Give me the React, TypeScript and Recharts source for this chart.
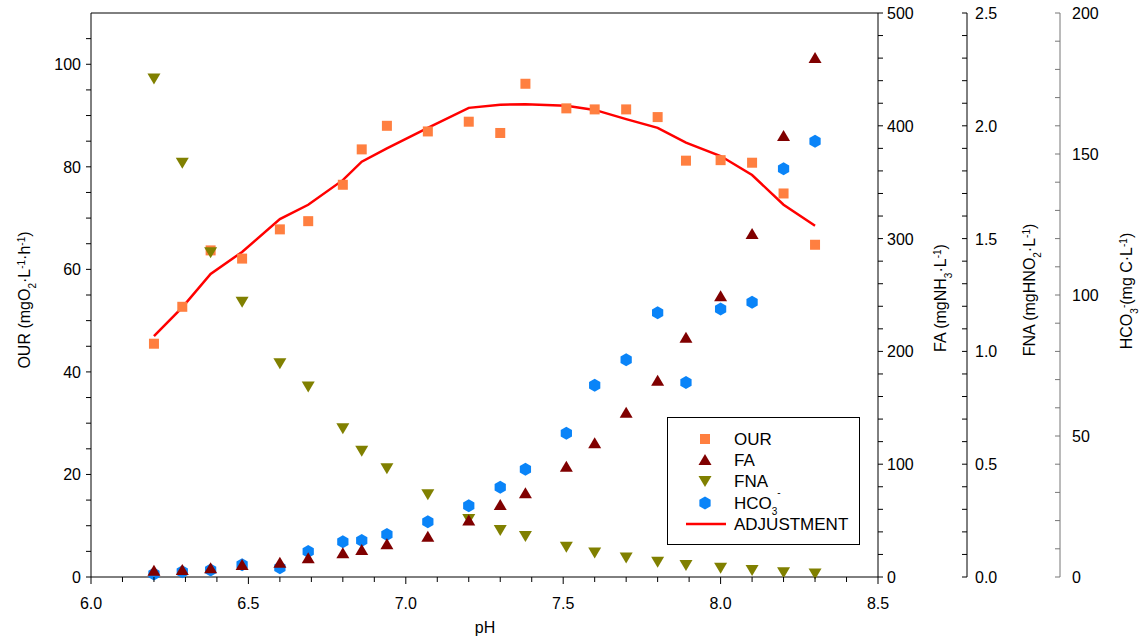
import React from 'react';
import { ComposedChart, Scatter, Line, XAxis, YAxis, ReferenceLine, Legend } from 'recharts';

const FONT = '"Liberation Sans", Arial, Helvetica, sans-serif';

// pH of each sample
const phValues = [6.2, 6.29, 6.38, 6.48, 6.6, 6.69, 6.8, 6.86, 6.94, 7.07, 7.2, 7.3, 7.38, 7.51, 7.6, 7.7, 7.8, 7.89, 8.0, 8.1, 8.2, 8.3];
// OUR (mgO2/L/h) measured and fitted
const ourValues = [45.5, 52.7, 63.7, 62.1, 67.8, 69.4, 76.5, 83.4, 88.0, 86.9, 88.8, 86.6, 96.2, 91.4, 91.2, 91.2, 89.7, 81.2, 81.3, 80.8, 74.8, 64.8];
const adjustmentValues = [47.0, 52.6, 59.1, 63.4, 69.8, 72.6, 77.4, 81.0, 83.6, 87.6, 91.5, 92.1, 92.2, 91.9, 91.1, 89.3, 87.6, 84.7, 82.1, 78.4, 72.6, 68.5];
// FA (mgNH3/L)
const faValues = [5.6, 6.2, 7.7, 10.6, 12.7, 16.6, 21, 24, 29, 35.7, 50, 63.8, 74.2, 97.8, 118.5, 145.7, 174, 212, 249, 304, 391, 460];
// FNA (mgHNO2/L)
const fnaValues = [2.21, 1.836, 1.44, 1.22, 0.947, 0.844, 0.659, 0.56, 0.482, 0.367, 0.257, 0.208, 0.182, 0.134, 0.109, 0.086, 0.068, 0.053, 0.041, 0.031, 0.021, 0.016];
// HCO3- (mg C/L)
const hco3Values = [1.1, 1.9, 2.5, 4.3, 3.3, 9.0, 12.5, 12.9, 15.1, 19.6, 25.3, 31.8, 38.2, 51, 68, 77, 93.7, 69, 95, 97.4, 144.8, 154.5];

const phMajorTicks = [6.0, 6.5, 7.0, 7.5, 8.0, 8.5];
const ourMajorTicks = [0, 20, 40, 60, 80, 100];
const faMajorTicks = [0, 100, 200, 300, 400, 500];
const fnaMajorTicks = [0, 0.5, 1.0, 1.5, 2.0, 2.5];
const hco3MajorTicks = [0, 50, 100, 150, 200];

const rows = phValues.map((ph, i) => ({
  ph,
  our: ourValues[i],
  adj: adjustmentValues[i],
  fa: faValues[i],
  fna: fnaValues[i],
  hco3: hco3Values[i],
}));

const steps = (from: number, to: number, step: number) => {
  const n = Math.round((to - from) / step);
  const out: number[] = [];
  for (let i = 0; i <= n; i++) out.push(Math.round((from + i * step) * 1000) / 1000);
  return out;
};
const isMajor = (list: number[], v: number) => list.some((m) => Math.abs(m - v) < 1e-6);

const C_OUR = '#ff7f40';
const C_FA = '#800000';
const C_FNA = '#808000';
const C_HCO3 = '#0a84f8';
const C_ADJ = '#ff0000';

const Square = ({ cx, cy, fill }: any) => <rect x={cx - 5} y={cy - 5} width={10} height={10} fill={fill} />;
const TriUp = ({ cx, cy, fill }: any) => (
  <polygon points={`${cx},${cy - 6} ${cx + 6.5},${cy + 5} ${cx - 6.5},${cy + 5}`} fill={fill} />
);
const TriDown = ({ cx, cy, fill }: any) => (
  <polygon points={`${cx - 6.5},${cy - 5} ${cx + 6.5},${cy - 5} ${cx},${cy + 6}`} fill={fill} />
);
const Hexagon = ({ cx, cy, fill }: any) => {
  const r = 6.5;
  const pts = [-90, -30, 30, 90, 150, 210]
    .map((a) => `${cx + r * Math.cos((a * Math.PI) / 180)},${cy + r * Math.sin((a * Math.PI) / 180)}`)
    .join(' ');
  return <polygon points={pts} fill={fill} />;
};

const txt = { fontFamily: FONT, fontSize: 16, fill: '#000' };

const xTick = (p: any) => {
  const v = p.payload.value;
  const major = isMajor(phMajorTicks, v);
  return (
    <g>
      <line x1={p.x} x2={p.x} y1={p.y} y2={p.y + (major ? 7 : 5)} stroke="#000" />
      {major && (
        <text x={p.x} y={p.y + 32} textAnchor="middle" {...txt}>
          {v.toFixed(1)}
        </text>
      )}
    </g>
  );
};

const ourTick = (p: any) => {
  const v = p.payload.value;
  return (
    <g>
      <line x1={p.x - 5} x2={p.x} y1={p.y} y2={p.y} stroke="#000" />
      {isMajor(ourMajorTicks, v) && (
        <text x={p.x - 10} y={p.y + 6} textAnchor="end" {...txt}>
          {v}
        </text>
      )}
    </g>
  );
};

const rightTick = (majors: number[], dir: number, gap: number, digits: number, stroke: string) => (p: any) => {
  const v = p.payload.value;
  return (
    <g>
      <line x1={p.x} x2={p.x + dir * 5} y1={p.y} y2={p.y} stroke={stroke} />
      {isMajor(majors, v) && (
        <text x={p.x + gap} y={p.y + 6} textAnchor="start" {...txt}>
          {v.toFixed(digits)}
        </text>
      )}
    </g>
  );
};

const sub = { fontSize: 10, baselineShift: 'sub' } as any;
const sup = { fontSize: 10, baselineShift: 'super' } as any;

const VLabel = ({ x, y, children }: any) => (
  <text transform={`translate(${x},${y}) rotate(-90)`} textAnchor="middle" fontFamily={FONT} fontSize={16} fill="#000">
    {children}
  </text>
);

const legendRows = [
  { name: 'OUR', y: 22, kind: 'square' },
  { name: 'FA', y: 43, kind: 'up' },
  { name: 'FNA', y: 64, kind: 'down' },
  { name: 'HCO3', y: 86, kind: 'hex' },
  { name: 'ADJUSTMENT', y: 107, kind: 'line' },
];

const LegendBox = () => (
  <svg width={194} height={129} style={{ display: 'block' }}>
    <rect x={0.5} y={0.5} width={192} height={127} fill="#fff" stroke="#000" />
    {legendRows.map((r) => (
      <g key={r.name}>
        {r.kind === 'square' && <Square cx={38} cy={r.y} fill={C_OUR} />}
        {r.kind === 'up' && <TriUp cx={38} cy={r.y} fill={C_FA} />}
        {r.kind === 'down' && <TriDown cx={38} cy={r.y} fill={C_FNA} />}
        {r.kind === 'hex' && <Hexagon cx={38} cy={r.y} fill={C_HCO3} />}
        {r.kind === 'line' && <line x1={19} x2={59} y1={r.y} y2={r.y} stroke={C_ADJ} strokeWidth={2.5} />}
        <text x={67} y={r.y + 6} fontFamily={FONT} fontSize={17} fill="#000">
          {r.kind === 'hex' ? (
            <>
              HCO<tspan {...sub}>3</tspan>
              <tspan dy={-13} fontSize={10}>-</tspan>
            </>
          ) : (
            r.name
          )}
        </text>
      </g>
    ))}
  </svg>
);

export default function App() {
  return (
    <div style={{ position: 'absolute', left: 0, top: 0 }}>
      <ComposedChart width={1141} height={638} data={rows} margin={{ top: 13, right: 0, bottom: 0, left: 0 }}>
        <XAxis
          dataKey="ph"
          type="number"
          domain={[6, 8.5]}
          ticks={steps(6, 8.5, 0.1)}
          interval={0}
          height={61}
          tickSize={0}
          tickMargin={0}
          tickLine={false}
          tick={xTick}
          axisLine={{ stroke: '#000' }}
          label={{ content: () => <text x={485} y={633} textAnchor="middle" {...txt}>pH</text> }}
        />
        <YAxis
          yAxisId="our"
          orientation="left"
          width={91}
          domain={[0, 110]}
          ticks={steps(0, 105, 5)}
          interval={0}
          tickSize={0}
          tickMargin={0}
          tickLine={false}
          tick={ourTick}
          axisLine={{ stroke: '#000' }}
          label={{
            content: () => (
              <VLabel x={30} y={300}>
                OUR (mgO<tspan {...sub}>2</tspan>·L<tspan {...sup}>-1</tspan>·h<tspan {...sup}>-1</tspan>)
              </VLabel>
            ),
          }}
        />
        <YAxis
          yAxisId="fa"
          orientation="right"
          width={89}
          domain={[0, 500]}
          ticks={steps(0, 500, 20)}
          interval={0}
          tickSize={0}
          tickMargin={0}
          tickLine={false}
          tick={rightTick(faMajorTicks, 1, 9, 0, '#000')}
          axisLine={{ stroke: '#000' }}
          label={{
            content: () => (
              <VLabel x={946} y={298}>
                FA (mgNH<tspan {...sub}>3</tspan>·L<tspan {...sup}>-1</tspan>)
              </VLabel>
            ),
          }}
        />
        <YAxis
          yAxisId="fna"
          orientation="right"
          width={93}
          domain={[0, 2.5]}
          ticks={steps(0, 2.5, 0.1)}
          interval={0}
          tickSize={0}
          tickMargin={0}
          tickLine={false}
          tick={rightTick(fnaMajorTicks, -1, 8, 1, '#000')}
          axisLine={{ stroke: '#000' }}
          label={{
            content: () => (
              <VLabel x={1035} y={290}>
                FNA (mgHNO<tspan {...sub}>2</tspan>·L<tspan {...sup}>-1</tspan>)
              </VLabel>
            ),
          }}
        />
        <YAxis
          yAxisId="hco3"
          orientation="right"
          width={81}
          domain={[0, 200]}
          ticks={steps(0, 200, 10)}
          interval={0}
          tickSize={0}
          tickMargin={0}
          tickLine={false}
          tick={rightTick(hco3MajorTicks, -1, 12, 0, '#777')}
          axisLine={{ stroke: '#777' }}
          label={{
            content: () => (
              <VLabel x={1132} y={291}>
                HCO<tspan {...sub}>3</tspan>
                <tspan {...sup}>-</tspan>(mg C·L<tspan {...sup}>-1</tspan>)
              </VLabel>
            ),
          }}
        />
        <ReferenceLine yAxisId="our" y={110} stroke="#000" />
        <Scatter dataKey="our" yAxisId="our" fill={C_OUR} shape={Square} isAnimationActive={false} />
        <Scatter dataKey="hco3" yAxisId="hco3" fill={C_HCO3} shape={Hexagon} isAnimationActive={false} />
        <Scatter dataKey="fna" yAxisId="fna" fill={C_FNA} shape={TriDown} isAnimationActive={false} />
        <Scatter dataKey="fa" yAxisId="fa" fill={C_FA} shape={TriUp} isAnimationActive={false} />
        <Line
          dataKey="adj"
          yAxisId="our"
          type="linear"
          stroke={C_ADJ}
          strokeWidth={2.5}
          dot={false}
          activeDot={false}
          isAnimationActive={false}
        />
        <Legend
          layout="vertical"
          align="center"
          verticalAlign="middle"
          content={() => <LegendBox />}
          wrapperStyle={{ position: 'absolute', left: 667, top: 417, width: 194, height: 129 }}
        />
      </ComposedChart>
    </div>
  );
}
